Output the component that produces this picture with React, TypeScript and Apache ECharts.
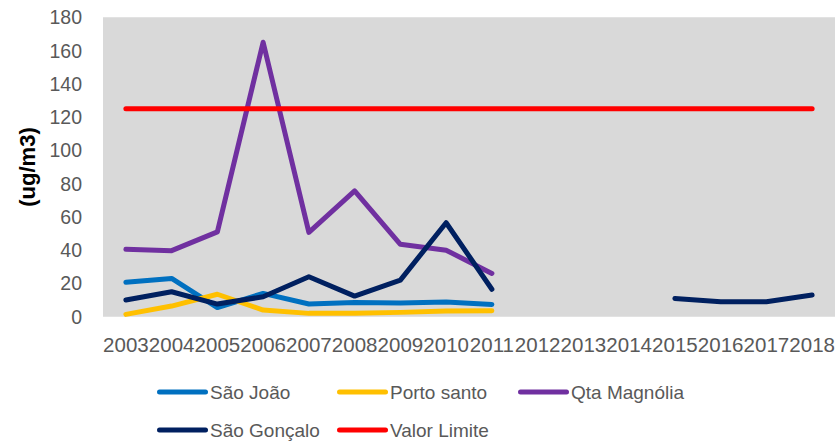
import React, { useEffect, useRef } from "react";
import * as echarts from "echarts";

const years = ["2003","2004","2005","2006","2007","2008","2009","2010","2011","2012","2013","2014","2015","2016","2017","2018"];
const saoJoao = [20.7, 23, 5.5, 14, 7.6, 8.6, 8.2, 8.8, 7.4, null, null, null, null, null, null, null];
const portoSanto = [1.4, 6.4, 13.5, 4, 2, 2, 2.6, 3.4, 3.6, null, null, null, null, null, null, null];
const qtaMagnolia = [40.5, 39.7, 51, 165, 50.7, 75.6, 43.5, 40, 26, null, null, null, null, null, null, null];
const saoGoncalo = [10, 15, 7.6, 12, 24, 12.4, 22, 56.5, 16.5, null, null, null, 11, 9, 9, 13];
const valorLimite = [125, 125, 125, 125, 125, 125, 125, 125, 125, 125, 125, 125, 125, 125, 125, 125];
const yTicks = { min: 0, max: 180, interval: 20 };

const FONT = "'Liberation Sans', Arial, sans-serif";
const ICON = "path://M2.5,0 H48.5 A2.5,2.5 0 0 1 48.5,5 H2.5 A2.5,2.5 0 0 1 2.5,0 Z";

export default function App() {
  const ref = useRef<HTMLDivElement>(null);
  useEffect(() => {
    if (!ref.current) return;
    const chart = echarts.init(ref.current, null, { renderer: "svg" });
    const mkSeries = (name: string, data: (number | null)[], color: string) => ({
      name,
      type: "line",
      data,
      symbol: "none",
      connectNulls: false,
      lineStyle: { color, width: 5, cap: "round", join: "round" },
      itemStyle: { color },
    });
    const mkLegend = (name: string, left: number, top: number) => ({
      data: [name],
      left,
      top,
      padding: 0,
      icon: ICON,
      itemWidth: 51,
      itemHeight: 5,
      textStyle: { color: "#595959", fontSize: 19, lineHeight: 20, fontFamily: FONT, padding: [0, 0, 0, -3] },
    });
    chart.setOption({
      animation: false,
      textStyle: { fontFamily: FONT },
      grid: {
        left: 103,
        right: 5,
        top: 17.3,
        bottom: 442 - 316.7,
        show: true,
        backgroundColor: "#d9d9d9",
        borderWidth: 0,
      },
      legend: [
        mkLegend("São João", 157, 382),
        mkLegend("Porto santo", 337, 382),
        mkLegend("Qta Magnólia", 518, 382),
        mkLegend("São Gonçalo", 157, 420),
        mkLegend("Valor Limite", 337, 420),
      ],
      xAxis: {
        type: "category",
        data: years,
        boundaryGap: true,
        axisLine: { show: false },
        axisTick: { show: false },
        axisLabel: {
          interval: 0,
          color: "#595959",
          fontSize: 20.5,
          fontFamily: FONT,
          margin: 17,
        },
      },
      yAxis: {
        type: "value",
        min: yTicks.min,
        max: yTicks.max,
        interval: yTicks.interval,
        name: "(ug/m3)",
        nameLocation: "middle",
        nameRotate: 90,
        nameGap: 64,
        nameTextStyle: { color: "#000", fontSize: 22, fontWeight: "bold", fontFamily: FONT },
        axisLine: { show: false },
        axisTick: { show: false },
        splitLine: { show: false },
        axisLabel: { color: "#595959", fontSize: 19.5, fontFamily: FONT, margin: 21 },
      },
      series: [
        mkSeries("São João", saoJoao, "#0070c0"),
        mkSeries("Porto santo", portoSanto, "#ffc000"),
        mkSeries("Qta Magnólia", qtaMagnolia, "#7030a0"),
        mkSeries("São Gonçalo", saoGoncalo, "#002060"),
        mkSeries("Valor Limite", valorLimite, "#ff0000"),
      ],
    });
    return () => chart.dispose();
  }, []);
  return (
    <div
      ref={ref}
      style={{ position: "absolute", left: 0, top: 0, width: 840, height: 442, background: "#fff" }}
    />
  );
}
